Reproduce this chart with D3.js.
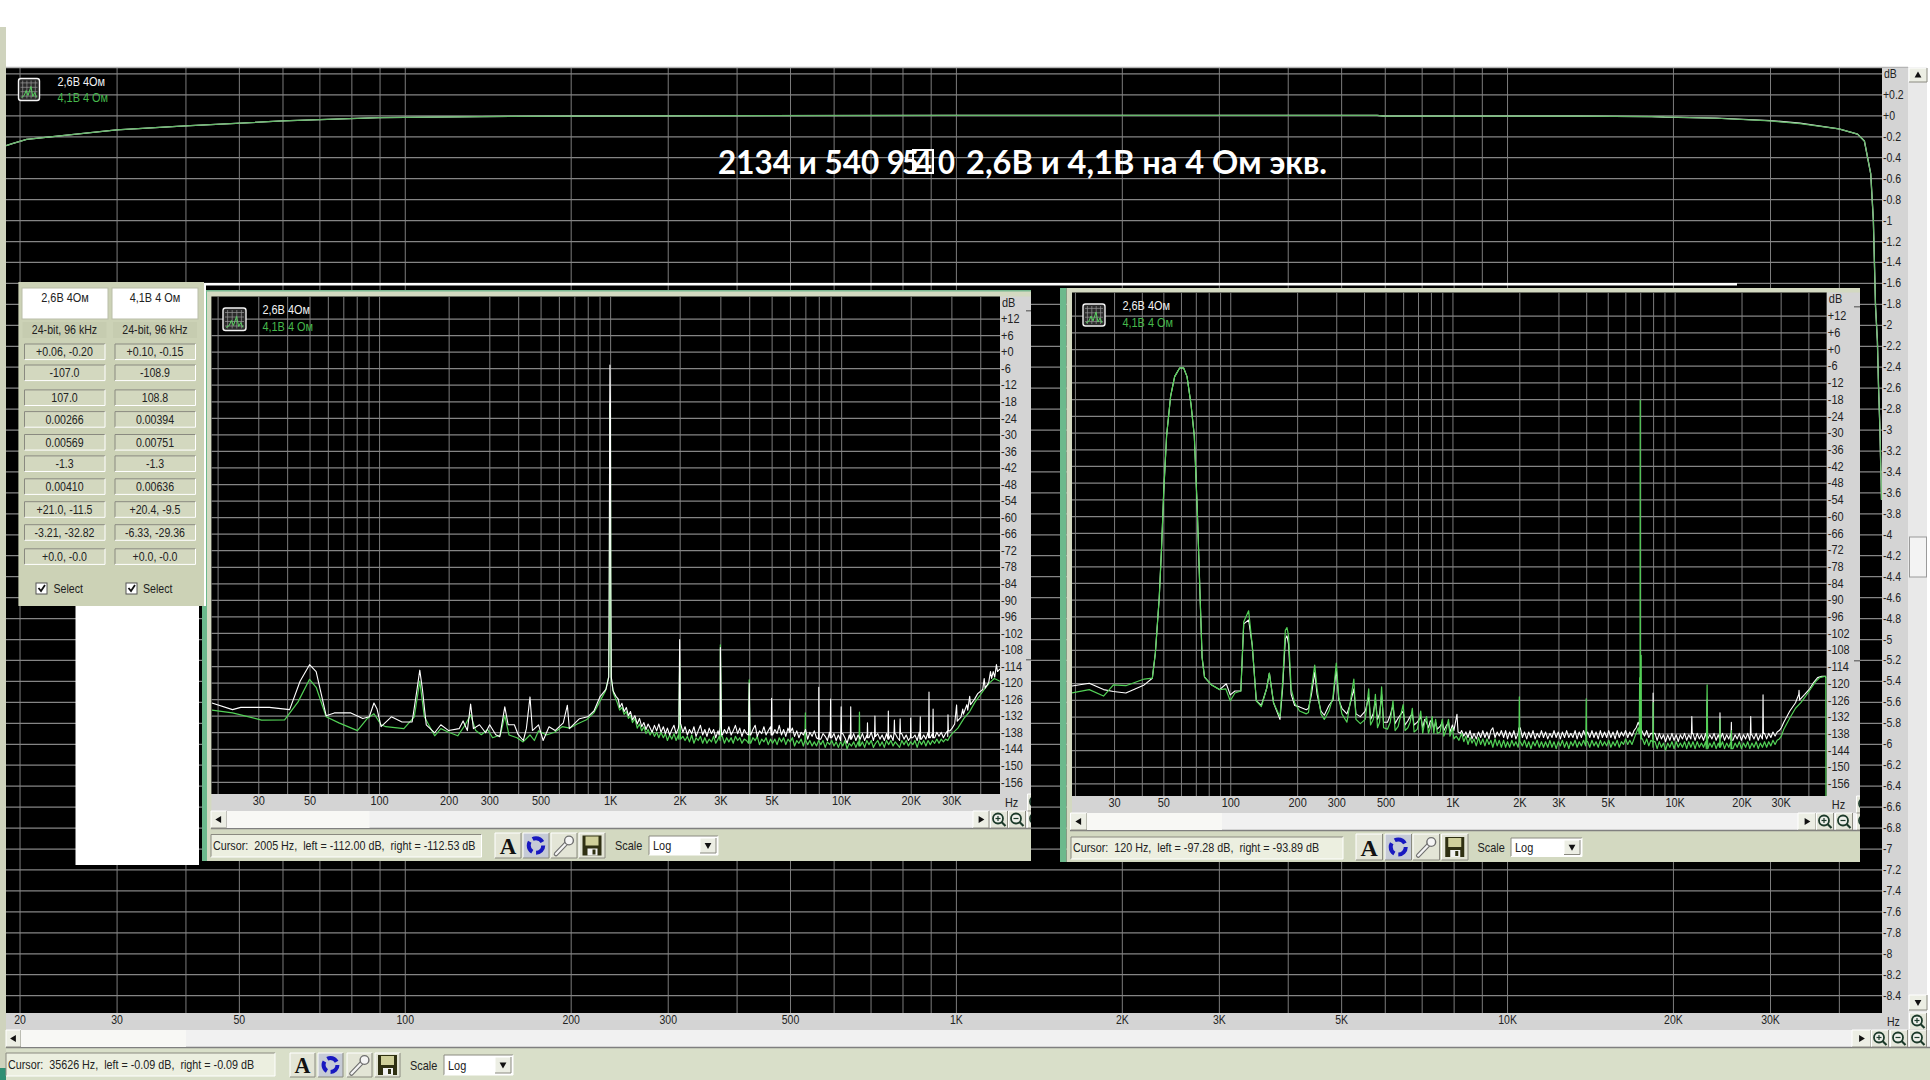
<!DOCTYPE html>
<html lang="ru"><head><meta charset="utf-8">
<script src="https://cdnjs.cloudflare.com/ajax/libs/d3/7.8.5/d3.min.js"></script>
<style>
html,body{margin:0;padding:0;background:#fff;overflow:hidden}
svg{display:block}
text{font-family:'Liberation Sans',Arial,sans-serif}
</style></head><body><svg id="c" width="1930" height="1080"></svg>
<script>
// ---------- values ----------
const seriesNames=["2,6В 4Ом","4,1В 4 Ом"];
const titleHead="2134 и 540 9", titleTail="2,6В и 4,1В на 4 Ом экв.";
const gridFreqs=[20,30,40,50,60,70,80,90,100,200,300,400,500,600,700,800,900,1000,2000,3000,4000,5000,6000,7000,8000,9000,10000,20000,30000,40000];
const mainFreqLabels=[20,30,50,100,200,300,500,1000,2000,3000,5000,10000,20000,30000];
const insetFreqLabels=[30,50,100,200,300,500,1000,2000,3000,5000,10000,20000,30000];
const mainDbGrid=d3.range(2,-43,-1).map(d=>d/5);
const mainDbLabels=d3.range(1,-43,-1).map(d=>d/5);
const insetDbTicks=d3.range(12,-157,-6);

const responseWhite=[[18.9,-.29],[19.4,-.27],[20.6,-.23],[30,-.14],[40,-.10],[60,-.054],[90,-.023],[137,-.013],[200,-.007],[1000,0],[5810,0],[6000,-.007],[13400,-.007],[18300,-.012],[19300,-.018],[24000,-.026],[30000,-.05],[34000,-.075],[40000,-.13],[43250,-.18],[44500,-.245],[45700,-.56],[46200,-1.0],[46620,-1.82],[46990,-2.16],[47200,-2.57],[47480,-2.98],[47800,-3.67]];
const responseGreen=[[18.9,-.29],[19.4,-.27],[20.6,-.23],[30,-.14],[40,-.10],[60,-.054],[90,-.023],[137,-.013],[200,-.007],[1000,0],[5810,0],[6000,-.007],[13400,-.007],[18300,-.013],[24000,-.028],[30000,-.053],[34000,-.08],[40000,-.13],[43250,-.18],[44500,-.245],[45700,-.56],[46200,-1.0],[46620,-1.82],[46990,-2.16],[47200,-2.57],[47480,-2.98],[47800,-3.67]];

// noise floor, shared frequency list (10 per line)
const floorFreqs=[1100,1125,1150,1175,1200,1225,1250,1280,1310,1340,
1370,1400,1430,1460,1490,1520,1555,1590,1625,1660,
1700,1735,1770,1810,1850,1890,1930,1975,2020,2065,
2110,2160,2205,2255,2305,2355,2405,2460,2515,2570,
2625,2685,2745,2805,2865,2930,2995,3060,3125,3195,
3265,3340,3410,3485,3565,3640,3720,3805,3890,3975,
4060,4150,4245,4335,4430,4530,4630,4730,4835,4945,
5050,5165,5280,5395,5515,5635,5760,5885,6015,6150,
6285,6425,6565,6710,6860,7010,7165,7320,7485,7650,
7820,7990,8165,8345,8530,8720,8910,9105,9310,9515,
9725,9940,10160,10380,10610,10845,11085,11330,11580,11835,
12095,12360,12635,12915,13200,13490,13785,14090,14400,14720,
15045,15375,15715,16060,16415,16775,17145,17525,17910,18305,
18710,19120,19545,19975,20415,20865,21325,21795,22275,22765,
23270,23780,24305,24840,25390,25950,26520,27105,27705,28315,
28940,29580,30230];
const floor1White=[-129,-127.5,-130.5,-129,-132,-130.5,-133.5,-132,-135,-133,
-136,-134.5,-137,-135,-136.5,-138,-135.5,-137.5,-135,-138,
-136,-138.5,-136.5,-139,-137,-135.5,-138.5,-136.5,-135,-138,
-136,-139,-137,-138.5,-136,-139.5,-137.5,-135.5,-139,-137,
-139.5,-136.5,-138.5,-137,-140,-137.5,-136,-139,-137,-138.5,
-136,-139,-137.5,-135.5,-138.5,-136.5,-139.5,-137,-138.5,-136.5,
-139,-137,-135.5,-139.5,-137.5,-138.5,-136,-139,-137.5,-136,
-139,-137,-138.5,-135.5,-139,-137,-139.5,-136.5,-138,-136.5,
-139.5,-137.5,-140,-138,-139,-137,-140.5,-138,-139.5,-137.5,
-140,-138,-140.5,-138.5,-139.5,-141,-138,-140,-138.5,-141,
-139,-141,-138.5,-140,-142,-139,-140.5,-138.5,-141,-139,
-140.5,-138.5,-141,-139,-140,-138,-141,-139.5,-138.5,-140.5,
-139,-141,-138.5,-140.5,-139,-141,-138.5,-140,-141,-138.5,
-140.5,-139,-141,-138.5,-140,-139,-141,-138,-140.5,-139,
-140.5,-138,-140,-138.5,-140,-138,-139.5,-138,-140,-138.5,
-139.5,-137.5,-136.5];
const floor1Green=[-130,-129,-131.5,-130.5,-133,-132,-134.5,-133,-136.5,-135,
-137.5,-136,-138.5,-137,-139,-137.5,-139.5,-138,-140,-138,
-140,-138.5,-141,-139,-140.5,-138.5,-141,-139,-140.5,-139.5,
-141,-139.5,-141.5,-139,-142,-140,-141,-139.5,-142,-140,
-142,-140.5,-141.5,-139.5,-142,-140.5,-141,-139.5,-142,-140,
-141.5,-140,-142,-139.5,-141,-140,-142,-140.5,-141,-140,
-142,-140,-141,-139.5,-142.5,-140.5,-141.5,-140,-142.5,-140.5,
-142,-140.5,-142.5,-140,-141.5,-140,-142.5,-140.5,-141.5,-140,
-143,-141,-142,-140.5,-143,-141,-142.5,-141,-143,-141.5,
-143,-141,-142.5,-141,-143.5,-141.5,-142.5,-141,-143,-141.5,
-143.5,-141.5,-143,-141,-144,-142,-143,-141.5,-143.5,-141.5,
-143,-141.5,-143.5,-141,-142.5,-141,-143.5,-142,-141,-143,
-141.5,-143.5,-141,-142.5,-141,-143,-141.5,-142.5,-143.5,-141,
-142.5,-141,-143,-141.5,-142.5,-141,-143.5,-141,-142.5,-141,
-143,-141,-142.5,-141,-142,-140.5,-142,-140.5,-141.5,-140.5,
-141,-139.5,-138.5];
const floor2White=[-137,-139,-137.5,-139.5,-137,-140,-138,-140,-137.5,-139.5,
-137,-139.5,-137.5,-140,-137,-136,-139.5,-137.5,-139,-137,
-139.5,-137,-140,-137.5,-139.5,-137,-140,-138,-136,-139.5,
-137.5,-140,-137.5,-139.5,-137,-140,-138,-139.5,-137,-139.5,
-137.5,-140,-138,-139.5,-137,-139.5,-137.5,-140,-137.5,-139.5,
-137,-139.5,-138,-139.5,-137,-140,-137.5,-139.5,-137,-139,
-137.5,-139.5,-137,-139.5,-137.5,-140,-137,-139.5,-137.5,-139.5,
-137,-139.5,-137.5,-140,-137,-139.5,-137.5,-139,-137,-139.5,
-137.5,-139,-137,-136,-134,-136,-137.5,-139,-137,-139.5,
-138,-140,-138,-140.5,-138,-140,-138.5,-141,-138.5,-140.5,
-138,-140.5,-138.5,-141,-138.5,-140,-138,-140.5,-138.5,-140,
-138,-140.5,-138,-140,-138.5,-140.5,-138,-140,-138.5,-140,
-138,-140.5,-138.5,-140,-138,-140.5,-138.5,-140,-138,-140.5,
-138.5,-140,-138,-140.5,-138.5,-140,-138,-140.5,-138.5,-140,
-138,-140.5,-138.5,-140,-138,-140,-138,-139.5,-137.5,-139,
-137.5,-137,-136];
const floor2Green=[-138,-141,-139,-142,-139.5,-141.5,-140,-142.5,-139.5,-142,
-140,-142.5,-140,-142,-140.5,-143,-140,-142.5,-140.5,-143,
-140.5,-143,-141,-143,-140.5,-142.5,-141,-143,-141,-142.5,
-140.5,-143,-141,-143.5,-141,-142.5,-140.5,-143,-141,-143,
-141,-143,-140.5,-143,-141,-143.5,-141,-142.5,-140.5,-143,
-141,-143.5,-141,-142.5,-140.5,-143,-141,-142.5,-140.5,-142.5,
-141,-143,-140.5,-142.5,-141,-143,-140.5,-142.5,-141,-142.5,
-140.5,-143,-141,-142.5,-140.5,-143,-141,-142,-140,-142,
-140.5,-142,-140,-138,-136,-138,-140,-142,-140,-142.5,
-140.5,-143,-141,-143.5,-141,-143,-141.5,-144,-141.5,-143,
-141,-143.5,-141,-143,-141.5,-143,-141,-143.5,-141,-143,
-141,-143.5,-141,-143,-141.5,-143,-141,-143.5,-141.5,-143,
-141,-143.5,-141.5,-143,-141,-143.5,-141.5,-143,-141,-143.5,
-141.5,-143,-141,-143.5,-141.5,-143,-141,-143.5,-141.5,-143,
-141,-143.5,-141.5,-143,-141,-143,-141,-142.5,-140.5,-142,
-140.5,-140,-139];

// spectral lines: [Hz, dB, width]
const lines1White=[[2000,-104.4,2],[3000,-107.3,3],[4000,-120.2,2],[5000,-125.7,1],[6000,-126,1],[8000,-121.7,1],[9000,-126,1],[10000,-128.8,1],[11000,-128.8,1],[13000,-134.6,1],[14000,-132.1,1],[16000,-130.3,1],[17000,-133.6,1],[18000,-133.1,1],[20000,-132.9,1],[22000,-132.4,1],[24000,-123.4,1],[25000,-129.6,1],[29000,-131.7,1]];
const lines1Green=[[2000,-112,2],[3000,-106.3,3],[4000,-119,2],[7000,-131,1],[12000,-130.7,1]];
const lines2White=[[2000,-136,1],[8000,-123.5,1],[11950,-132,1],[14000,-126,1],[16000,-130.6,1],[18000,-134,1],[22000,-132,1],[25000,-124.2,1]];
const lines2Green=[[2000,-124.9,1],[4000,-125.6,1],[6960,-118,1],[7000,-18.4,3],[7070,-110,1],[8000,-127,1],[14000,-120.6,2],[16000,-133,1],[18000,-137,1]];

const low1White=[[18.9,-127.4],[23.2,-129.8],[25.2,-129],[33.5,-129],[41,-129.8],[45.5,-119.5],[50,-113.5],[53.4,-116],[59,-132],[64,-131],[75.5,-131],[85,-133],[90.7,-132.4],[95,-127.4],[98,-129.6],[102,-136],[113,-132.4],[125.6,-134.3],[139,-134.3],[146,-122.4],[150,-115.5],[154,-122.4],[160,-135.3],[174,-138.2],[185,-135.3],[200,-137.4],[222,-136.7],[231,-133.9],[241,-137.4],[249,-127.8],[256,-136.7],[272,-135.3],[289,-138.2],[301,-135.3],[320,-138.9],[333,-139.6],[350,-128.8],[362,-135.3],[385,-135.3],[400,-138.9],[421,-141],[434,-136.7],[450,-125.2],[461,-137.4],[490,-135.3],[513,-141],[544,-136],[578,-137.4],[627,-134.6],[653,-128.2],[666,-136.7],[737,-133.1],[800,-132.4],[851,-130.3],[903,-125.2],[960,-122.4],[986,-118],[992,-70],[996,-19],[998,-4.9],[1003,-19],[1006,-80],[1012,-118],[1030,-123],[1060,-125],[1085,-126]];
const high1White=[[31000,-135],[31600,-128.1],[31800,-134],[33000,-132.5],[33600,-129.6],[33800,-131.5],[35000,-128],[35300,-130],[36000,-125],[36300,-128],[37800,-126],[39000,-124],[41000,-122.5],[41600,-118.5],[42000,-122],[43500,-120],[44300,-116],[44800,-118.5],[45500,-116],[46200,-118],[47000,-113.5],[47500,-116],[48700,-115]];
const low1Green=[[18.9,-130],[23.2,-131],[31,-133.6],[39,-133.5],[44.6,-127],[50,-118.8],[53.4,-121.7],[59,-132.4],[67,-134.6],[80.6,-137.4],[89,-133],[95,-131.3],[102,-135.3],[107,-136],[128,-136.7],[142,-132.4],[150,-119.5],[157,-132.4],[174,-139.3],[185,-136.7],[200,-138],[219,-139.3],[236,-135.3],[249,-131.7],[262,-137.4],[277,-138.9],[295,-137],[310,-140],[335,-139],[350,-132],[365,-139],[395,-140],[420,-141.5],[450,-139],[470,-141],[490,-137.5],[530,-139],[575,-138],[620,-136],[670,-136.5],[720,-135],[790,-133.5],[850,-131],[900,-127],[955,-123],[985,-118],[993,-100],[996,-19],[1003,-19],[1006,-100],[1012,-119],[1035,-124],[1070,-127]];
const high1Green=[[32000,-136.5],[34000,-133],[36000,-130.5],[38000,-127],[40000,-124.5],[42000,-122],[44000,-120],[46000,-118.5],[48700,-119.5]];
const low2White=[[19.4,-121],[23.2,-120],[26.9,-122.3],[29.8,-123],[33.9,-123.5],[41,-120.6],[44.6,-118.2],[46,-109.3],[47.9,-89.4],[49.1,-71],[50.2,-51.1],[51.7,-31.2],[53.9,-17],[56.2,-9.9],[59.2,-6.8],[61.7,-6.8],[63.9,-9.9],[66.6,-19.9],[68.9,-31.2],[71,-56.8],[73.1,-88],[74.7,-110.7],[76.6,-117.8],[82.3,-120.6],[89.6,-122.3],[96,-120.2],[100,-124.2],[105,-122.8],[111.6,-122.8],[115,-98.7],[121,-97.3],[125.6,-106.4],[131,-126.3],[138,-128],[145.7,-122],[150,-116.4],[156.6,-127],[167.4,-133],[172,-122],[177,-104],[180,-103],[183,-106],[188,-124],[195,-128],[205,-128.5],[220,-129.5],[225,-129],[232,-124],[240,-116],[246,-124],[256,-130],[265,-131.5],[278,-128],[290,-126],[300,-115],[308,-126],[318,-129],[335,-131],[345,-128],[360,-122],[368,-131],[385,-132],[405,-130],[420,-125],[428,-133],[440,-131],[450,-126],[460,-133],[470,-131],[480,-124],[490,-134],[510,-134],[525,-131.5],[540,-128],[552,-134.5],[570,-132.5],[600,-130],[612,-135],[630,-133.5],[645,-132],[660,-131],[672,-135],[695,-134],[720,-132],[735,-136],[750,-133],[765,-134],[780,-136],[795,-133.5],[810,-134],[825,-136.5],[840,-134],[855,-136.5],[880,-135.5],[900,-134],[915,-137],[935,-135.5],[960,-134],[975,-137.5],[1000,-135],[1015,-137],[1048,-131.2],[1060,-137.5],[1085,-138]];
const high2White=[[31000,-134],[33000,-130],[35000,-127],[36200,-124],[36300,-122.5],[36500,-126],[38500,-124],[40500,-122],[42000,-120],[44000,-118],[46000,-117.5],[47700,-117.5],[47900,-118]];
const low2Green=[[19.4,-123.5],[23.2,-122.3],[26.9,-124.6],[29.8,-120.6],[33.9,-120.9],[41,-118.5],[44.6,-118.2],[46,-109.3],[47.9,-89.4],[49.1,-71],[50.2,-51.1],[51.7,-31.2],[53.9,-17],[56.2,-9.9],[59.2,-6.8],[61.7,-6.8],[63.9,-9.9],[66.6,-19.9],[68.9,-31.2],[71,-56.8],[73.1,-88],[74.7,-110.7],[76.6,-117.8],[82.3,-120.6],[89.6,-122.3],[95.4,-122],[100,-126.3],[105,-123.5],[111.6,-122.8],[115,-97.9],[121,-94],[125.6,-106.4],[131,-126.3],[138,-128.4],[145.7,-122],[150,-116.4],[156.6,-127],[167.4,-132],[172,-120],[177,-101],[180,-100],[183,-103],[188,-122],[195,-127],[205,-130],[220,-131],[225,-130.5],[232,-122],[240,-113.5],[246,-122],[256,-131],[265,-133],[278,-130],[290,-125],[300,-112.8],[308,-125],[318,-131],[335,-134],[345,-128],[360,-118.5],[368,-133],[385,-134.5],[405,-133],[420,-122],[428,-135],[440,-133],[450,-124],[460,-136],[470,-134],[480,-121.3],[490,-136],[510,-136.5],[525,-134],[540,-126.3],[552,-137],[570,-135.5],[600,-127.7],[612,-137],[630,-136],[645,-134],[660,-129],[672,-137.5],[695,-136.5],[720,-130],[735,-138],[750,-134],[765,-132],[780,-138],[795,-136],[810,-132],[825,-138],[840,-133],[855,-138],[880,-137.5],[900,-133],[915,-139],[935,-137],[960,-133],[975,-139],[1000,-136],[1015,-140],[1040,-139],[1070,-140.5]];
const high2Green=[[31000,-136.5],[33000,-132.5],[35000,-129],[37000,-127],[39000,-124.5],[41000,-122],[43000,-119.5],[45000,-118],[47700,-117.5],[47900,-118],[48000,-172]];

const cursorMain="Cursor:  35626 Hz,  left = -0.09 dB,  right = -0.09 dB";
const cursor1="Cursor:  2005 Hz,  left = -112.00 dB,  right = -112.53 dB";
const cursor2="Cursor:  120 Hz,  left = -97.28 dB,  right = -93.89 dB";
const tableFormat=["24-bit, 96 kHz","24-bit, 96 kHz"];
const tableLeft=["+0.06, -0.20","-107.0","107.0","0.00266","0.00569","-1.3","0.00410","+21.0, -11.5","-3.21, -32.82","+0.0, -0.0"];
const tableRight=["+0.10, -0.15","-108.9","108.8","0.00394","0.00751","-1.3","0.00636","+20.4, -9.5","-6.33, -29.36","+0.0, -0.0"];

function assemble(low,vals,lines,high){
  const pts=floorFreqs.map((f,i)=>[f,vals[i]]);
  lines.forEach(([f,db,w])=>{
    const base=vals[d3.bisectLeft(floorFreqs,f)]??vals[vals.length-1];
    pts.push([f*(1-.004*w),base],[f,db],[f*(1+.004*w),base]);
  });
  pts.sort((a,b)=>a[0]-b[0]);
  return low.concat(pts,high);
}
const spec1White=assemble(low1White,floor1White,lines1White,high1White);
const spec1Green=assemble(low1Green,floor1Green,lines1Green,high1Green);
const spec2White=assemble(low2White,floor2White,lines2White,high2White);
const spec2Green=assemble(low2Green,floor2Green,lines2Green,high2Green);

// ---------- helpers ----------
const svg=d3.select("#c");
const C={chrome:"#d9dfc9",strip:"#d4d4d4",scroll:"#f1f1f1",box:"#ecefe0",grid:"#7c7c7c",green:"#52d056",white:"#fff",panelGreen:"#6cb98c",pale:"#d3d9c1"};
const R=(g,x,y,w,h,f,s)=>g.append("rect").attr("x",x).attr("y",y).attr("width",w).attr("height",h).attr("fill",f).attr("stroke",s||"none");
const T=(g,x,y,t,sz,f,a)=>g.append("text").attr("x",x).attr("y",y).attr("dy",".35em").attr("font-size",sz).attr("fill",f||"#222").attr("text-anchor",a||"start").attr("xml:space","preserve").text(t);
const hzFmt=f=>f>=1000?(f/1000)+"K":String(f);
const dbFmt=v=>{const n=+v.toFixed(1);return n>=0?"+"+n:String(n)};
let clipId=0;

function bevel(g,x,y,w,h,f){
  R(g,x,y,w,h,f||"#e3e5d6");
  g.append("path").attr("d",`M${x},${y+h}V${y}H${x+w}`).attr("fill","none").attr("stroke","#fff");
  g.append("path").attr("d",`M${x},${y+h}H${x+w}V${y}`).attr("fill","none").attr("stroke","#8a8a80");
}
function sunken(g,x,y,w,h,f){
  R(g,x,y,w,h,f||C.box);
  g.append("path").attr("d",`M${x},${y+h}V${y}H${x+w}`).attr("fill","none").attr("stroke","#8a8a80");
  g.append("path").attr("d",`M${x},${y+h}H${x+w}V${y}`).attr("fill","none").attr("stroke","#fff");
}
function icon(g,x,y,w,h){
  const i=g.append("g");
  i.append("rect").attr("x",x).attr("y",y).attr("width",w).attr("height",h).attr("rx",2.5).attr("fill","#2a2a2a").attr("stroke","#f4f4f4").attr("stroke-width",1.4);
  for(let k=1;k<5;k++){
    i.append("line").attr("x1",x+w*k/5).attr("x2",x+w*k/5).attr("y1",y+2).attr("y2",y+h-2).attr("stroke","#9a9a9a").attr("stroke-width",.7);
    i.append("line").attr("y1",y+h*k/5).attr("y2",y+h*k/5).attr("x1",x+2).attr("x2",x+w-2).attr("stroke","#9a9a9a").attr("stroke-width",.7);
  }
  const b=y+h-3,sx=w/22;
  i.append("path").attr("fill","none").attr("stroke","#58d060").attr("stroke-width",1)
   .attr("d",`M${x+3},${b}L${x+6*sx},${b-2}L${x+8*sx},${b-7}L${x+10*sx},${b-2}L${x+13*sx},${b-11}L${x+15*sx},${b-1}L${x+17*sx},${b-5}L${x+19*sx},${b}`);
}
function legend(g,x,y1,y2,sz){
  T(g,x,y1,seriesNames[0],sz,"#f2f2f2");
  T(g,x,y2,seriesNames[1],sz,"#46b84c");
}
function lens(g,cx,cy,plus){
  bevel(g,cx-8.5,cy-8.5,17,17,"#e4e6da");
  g.append("circle").attr("cx",cx-1).attr("cy",cy-1).attr("r",5).attr("fill","#eef0ea").attr("stroke","#1c3a2a").attr("stroke-width",1.8);
  g.append("line").attr("x1",cx+2.5).attr("y1",cy+2.5).attr("x2",cx+6.5).attr("y2",cy+6.5).attr("stroke","#1c3a2a").attr("stroke-width",2.2);
  g.append("line").attr("x1",cx-3.5).attr("x2",cx+1.5).attr("y1",cy-1).attr("y2",cy-1).attr("stroke","#1c3a2a").attr("stroke-width",1.2);
  if(plus)g.append("line").attr("y1",cy-3.5).attr("y2",cy+1.5).attr("x1",cx-1).attr("x2",cx-1).attr("stroke","#1c3a2a").attr("stroke-width",1.2);
}
function arrowBtn(g,x,y,w,h,dir){
  bevel(g,x,y,w,h,"#eceee4");
  const cx=x+w/2,cy=y+h/2,s=3.4;
  const d={l:`M${cx-s},${cy}L${cx+s-1},${cy-s}V${cy+s}Z`,r:`M${cx+s},${cy}L${cx-s+1},${cy-s}V${cy+s}Z`,u:`M${cx},${cy-s}L${cx-s},${cy+s-1}H${cx+s}Z`,d:`M${cx},${cy+s}L${cx-s},${cy-s+1}H${cx+s}Z`}[dir];
  g.append("path").attr("d",d).attr("fill","#111");
}
function toolbar(g,xs,y,w,h,scaleX,comboX,comboY,comboW,comboH,sz){
  bevel(g,xs[0],y,w,h);
  g.append("text").attr("class","keep").attr("x",xs[0]+w/2).attr("y",y+h-4.5).attr("text-anchor","middle").attr("font-size",h*.92).attr("font-weight",700).style("font-family","'Liberation Serif',serif").attr("fill","#111").text("A");
  bevel(g,xs[1],y,w,h,"#c6cbd6");
  const cx=xs[1]+w/2,cy=y+h/2,r=h*.29;
  g.append("circle").attr("cx",cx).attr("cy",cy).attr("r",r).attr("fill","none").attr("stroke","#1818c0").attr("stroke-width",4).attr("stroke-dasharray",`${r*1.55} ${r*.55}`);
  bevel(g,xs[2],y,w,h);
  const wx=xs[2]+w/2,wy=y+h/2;
  g.append("line").attr("x1",wx-8).attr("y1",wy+8.5).attr("x2",wx+3).attr("y2",wy-3).attr("stroke","#6f6f6f").attr("stroke-width",4.6).attr("stroke-linecap","round");
  g.append("line").attr("x1",wx-8).attr("y1",wy+8.5).attr("x2",wx+3).attr("y2",wy-3).attr("stroke","#f4f4f4").attr("stroke-width",2.4).attr("stroke-linecap","round");
  g.append("circle").attr("cx",wx+5).attr("cy",wy-5).attr("r",4.4).attr("fill","#f4f4f4").attr("stroke","#6f6f6f").attr("stroke-width",1.4);
  bevel(g,xs[3],y,w,h);
  const sx=xs[3]+w/2-9.5,sy=y+h/2-10;
  R(g,sx,sy,19,20,"#2f3012");
  R(g,sx+3,sy+1,13,9,"#cfcf9a");
  R(g,sx+5,sy+13,10,7,"#f2f2f2");
  R(g,sx+10,sy+14,3,5,"#2f3012");
  T(g,scaleX,y+h/2,"Scale",sz,"#222");
  sunken(g,comboX,comboY,comboW,comboH,"#fff");
  T(g,comboX+4,comboY+comboH/2,"Log",sz,"#222");
  arrowBtn(g,comboX+comboW-18,comboY+2,16,comboH-4,"d");
}

// ---------- one plot area ----------
function plot(o){
  const x=d3.scaleLog().domain(o.fDom).range([o.l,o.r]);
  const y=d3.scaleLinear().domain(o.yDom).range([o.t,o.b]);
  const g=svg.append("g");
  R(g,o.l,o.t,o.r-o.l,o.b-o.t,"#000");
  const gx=g.append("g").attr("transform",`translate(0,${o.b})`)
    .call(d3.axisBottom(x).tickValues(gridFreqs).tickSize(-(o.b-o.t)).tickFormat(""));
  gx.select(".domain").remove();
  gx.selectAll("line").attr("stroke",C.grid).attr("stroke-width",1);
  const gy=g.append("g").attr("transform",`translate(${o.l},0)`)
    .call(d3.axisLeft(y).tickValues(o.yGrid).tickSize(-(o.r-o.l)).tickFormat(""));
  gy.select(".domain").remove();
  gy.selectAll("line").attr("stroke","#858585").attr("stroke-width",1.25);
  const id="clip"+(clipId++);
  g.append("clipPath").attr("id",id).append("rect").attr("x",o.l).attr("y",o.t).attr("width",o.r-o.l+1).attr("height",o.b-o.t);
  const line=d3.line().x(d=>x(d[0])).y(d=>y(d[1]));
  o.series.forEach(s=>g.append("path").datum(s.data).attr("clip-path",`url(#${id})`).attr("fill","none")
    .attr("stroke",s.color).attr("stroke-width",s.w).attr("stroke-linejoin","round").attr("d",line));
  return {g,x,y};
}
function labels(g,x,y,o){
  R(g,o.l,o.b,o.stripR-o.l,o.labelH,C.strip);
  R(g,o.r,o.t,o.stripR-o.r,o.b-o.t+1,C.strip);
  const ax=g.append("g").attr("transform",`translate(0,${o.b})`)
    .call(d3.axisBottom(x).tickValues(o.fLabels).tickSize(0).tickPadding(2).tickFormat(hzFmt));
  ax.select(".domain").remove();
  ax.selectAll("text").attr("font-size",o.sz).attr("fill","#222").style("font-family","'Liberation Sans',Arial,sans-serif");
  const ay=g.append("g").attr("transform",`translate(${o.r+1},0)`)
    .call(d3.axisRight(y).tickValues(o.yLabels).tickSize(0).tickPadding(0).tickFormat(dbFmt));
  ay.select(".domain").remove();
  ay.selectAll("text").attr("font-size",o.sz).attr("fill","#222").style("font-family","'Liberation Sans',Arial,sans-serif");
  T(g,o.r+2,o.t+6,"dB",o.sz,"#222");
  T(g,o.r+5,o.b+o.labelH/2,"Hz",o.sz,"#222");
}

// ---------- main response chart ----------
R(svg,0,27,6,1053,"#cfd3bd");
R(svg,0,1068,6,12,"#2f8f73");
R(svg,1882,67,45,963,"#e9e9e9");
const mainO={l:6,r:1882,t:68,b:1013,stripR:1908,labelH:17,fDom:[18.9,47900],yDom:[.4516,-8.57],yGrid:mainDbGrid,yLabels:mainDbLabels,fLabels:mainFreqLabels,sz:12.5,
  series:[{data:responseWhite,color:"#f2f2f2",w:1.3},{data:responseGreen,color:"#65b96a",w:1.2}]};
const M=plot(mainO);
svg.append("line").attr("x1",6).attr("x2",1908).attr("y1",67.5).attr("y2",67.5).attr("stroke","#b5b5b5").attr("stroke-width",1.5);
labels(svg,M.x,M.y,mainO);
arrowBtn(svg,1909,68,18,14,"u");
arrowBtn(svg,1909,995,18,15,"d");
R(svg,1909.5,537,17,40,"#f3f3f3","#9a9a9a");
lens(svg,1918,1021.5,true);
R(svg,6,1030,1924,17,C.scroll);
R(svg,6,1047,1924,33,C.chrome);
svg.append("line").attr("x1",6).attr("x2",1930).attr("y1",1047.5).attr("y2",1047.5).attr("stroke","#7f7f7f").attr("stroke-width",1.4);
arrowBtn(svg,6,1030,15,17,"l");
R(svg,21,1030,165,17,"#f8f8f5");
arrowBtn(svg,1852,1030,19,17,"r");
lens(svg,1880,1038.5,true);lens(svg,1899,1038.5,false);lens(svg,1918,1038.5,false);
sunken(svg,6,1053,269,23);
T(svg,8,1064.5,cursorMain,12.8);
toolbar(svg,[290,318,347,375],1053,25,24,410,444,1055,69,20,13);
legend(svg,57.5,81,97,13);
icon(svg,18.5,78.5,21,22);
// title
const title=svg.append("g");
const TT=(x,t)=>title.append("text").attr("class","keep").attr("x",x).attr("y",174).attr("font-size",33).style("font-family","Lato,'Open Sans',sans-serif").attr("font-weight",700).attr("fill","#fff").text(t);
TT(718,titleHead).attr("textLength",187).attr("lengthAdjust","spacingAndGlyphs");
TT(902,"5").attr("textLength",17).attr("lengthAdjust","spacingAndGlyphs");
TT(915,"4").attr("textLength",17).attr("lengthAdjust","spacingAndGlyphs");
R(title,913,150,20,23,"none","#fff").attr("stroke-width",2);
TT(938,"0").attr("textLength",17).attr("lengthAdjust","spacingAndGlyphs");
TT(966,titleTail).attr("textLength",361).attr("lengthAdjust","spacingAndGlyphs");

// ---------- white bar + white block ----------
R(svg,204,283,1533,2.5,"#fff");
R(svg,75.5,606,123.5,259,"#fff");

// ---------- left spectrum ----------
R(svg,202,606,4,255,C.panelGreen);
R(svg,204,290,827,571,C.pale);
R(svg,204,290.5,3,570.5,C.panelGreen);
R(svg,206,290,825,1.5,"#79b890");
const o1={l:211.4,r:1000,t:296.5,b:794,stripR:1031,labelH:17,fDom:[18.8,48700],yDom:[20,-160.4],yGrid:insetDbTicks,yLabels:insetDbTicks,fLabels:insetFreqLabels,sz:13,
  series:[{data:spec1Green,color:C.green,w:1.2},{data:spec1White,color:"#fff",w:1.1}]};
const P1=plot(o1);
labels(svg,P1.x,P1.y,o1);
R(svg,1026,310,5,1.5,"#777");R(svg,1026,659,5,1.5,"#777");
R(svg,211,811,820,17,C.scroll);
svg.append("line").attr("x1",211).attr("x2",1031).attr("y1",828.5).attr("y2",828.5).attr("stroke","#808080").attr("stroke-width",1.3);
arrowBtn(svg,211,811,15.5,17,"l");
R(svg,226.5,811,143,17,"#f8f8f5");
arrowBtn(svg,973,811,16,17,"r");
lens(svg,999,819.5,true);lens(svg,1017,819.5,false);
svg.append("clipPath").attr("id","pc1").append("rect").attr("x",1027).attr("y",790).attr("width",4).attr("height",40);
lens(svg.append("g").attr("clip-path","url(#pc1)"),1036,819.5,false);
lens(svg.append("g").attr("clip-path","url(#pc1)"),1036,802.5,true);
sunken(svg,211,834.5,270.5,22.5);
T(svg,213,845.5,cursor1,12.8);
toolbar(svg,[495,523,551,579],833,26,25,615,649,836,69,19,13);
legend(svg,262.4,309.5,326,13);
icon(svg,223,308,23,22.5);

// ---------- right spectrum ----------
R(svg,1060,288,6.5,574,C.panelGreen);
R(svg,1066.5,288,793.5,574,C.pale);
const o2={l:1072,r:1826.8,t:292.5,b:796,stripR:1860,labelH:17,fDom:[19.4,48400],yDom:[20.3,-160.5],yGrid:insetDbTicks,yLabels:insetDbTicks,fLabels:insetFreqLabels,sz:13,
  series:[{data:spec2White,color:"#fff",w:1.1},{data:spec2Green,color:C.green,w:1.2}]};
const P2=plot(o2);
labels(svg,P2.x,P2.y,o2);
R(svg,1854,306,6,1.5,"#777");R(svg,1854,660,6,1.5,"#777");
R(svg,1070.5,813,789.5,17,C.scroll);
svg.append("line").attr("x1",1070).attr("x2",1860).attr("y1",830.5).attr("y2",830.5).attr("stroke","#808080").attr("stroke-width",1.3);
arrowBtn(svg,1070.5,813,16.5,17,"l");
R(svg,1087,813,135,17,"#f8f8f5");
arrowBtn(svg,1798,813,18,17,"r");
lens(svg,1825,821.5,true);lens(svg,1844,821.5,false);
svg.append("clipPath").attr("id","pc2").append("rect").attr("x",1856).attr("y",792).attr("width",4).attr("height",40);
lens(svg.append("g").attr("clip-path","url(#pc2)"),1865,821.5,false);
lens(svg.append("g").attr("clip-path","url(#pc2)"),1865,804.5,true);
sunken(svg,1071,837,272,22);
T(svg,1073,848,cursor2,12.8);
toolbar(svg,[1356,1385,1413,1441.5],834,26.5,26,1477.5,1511,838,71,18.5,13);
legend(svg,1122.4,305.6,322,13);
icon(svg,1083,304,22,22);

// ---------- summary table ----------
R(svg,18.4,282,185.6,324,"#ccd2b6");
R(svg,204,283,2,323,"#fff");
[[22,seriesNames[0]],[112,seriesNames[1]]].forEach(([x,t])=>{R(svg,x,288,86,31,"#fff","#b9bda8");T(svg,x+43,297,t,13,"#222","middle")});
[[24.5,tableFormat[0]],[115,tableFormat[1]]].forEach(([x,t])=>{R(svg,x-2,322,84,16,"#c6ccb0");T(svg,x+40,330,t,12.6,"#222","middle")});
const rowY=[351.8,372.8,397.7,419.4,442.3,463.7,486.6,509.5,532.5,556.6];
rowY.forEach((y,i)=>{
  [[24.5,tableLeft[i]],[115,tableRight[i]]].forEach(([x,t])=>{
    sunken(svg,x,y-7.8,80.5,15.6,"#d3d8bf");
    T(svg,x+40,y,t,12.6,"#222","middle");
  });
});
[[36,53.5],[126,143]].forEach(([x,tx])=>{
  R(svg,x,583,11,11,"#fff","#555");
  svg.append("path").attr("d",`M${x+2.5},${588}l2.5,3l4,-6`).attr("fill","none").attr("stroke","#111").attr("stroke-width",1.8);
  T(svg,tx,588.8,"Select",12.6);
});

// the original's interface type is narrow and tall: condense every label
svg.selectAll("text").filter(function(){return !this.classList.contains("keep")&&this.textContent}).each(function(){
  const w=this.getComputedTextLength();
  d3.select(this).attr("textLength",(w*.84).toFixed(1)).attr("lengthAdjust","spacingAndGlyphs");
});
</script></body></html>
